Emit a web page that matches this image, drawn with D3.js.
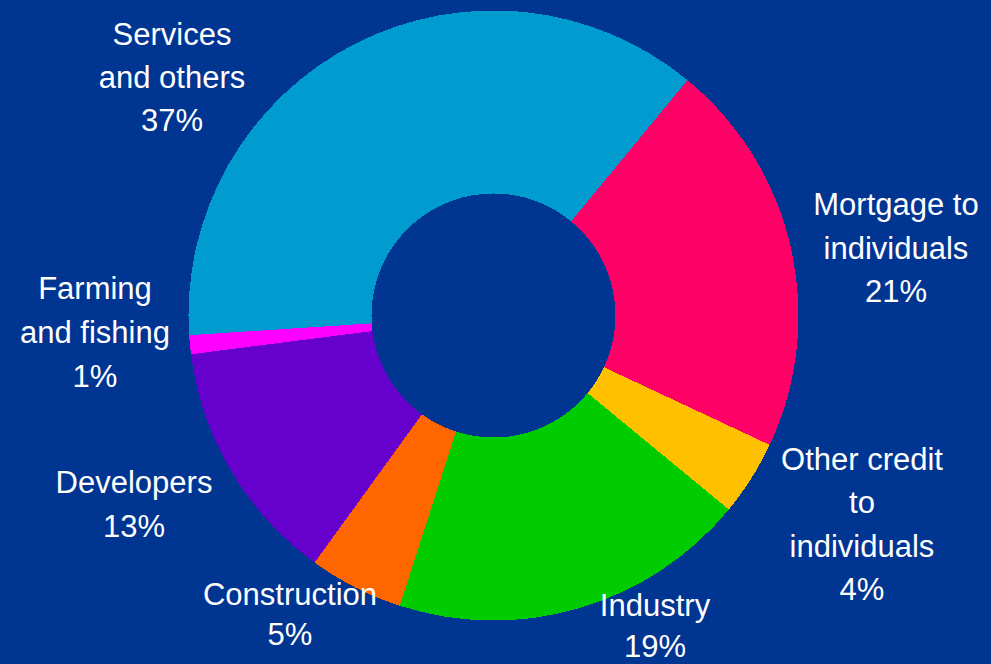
<!DOCTYPE html>
<html>
<head>
<meta charset="utf-8">
<script src="https://cdn.jsdelivr.net/npm/d3@7"></script>
<style>
  html, body { margin: 0; padding: 0; background: #003592; }
  svg { display: block; }
  text { font-family: Arial, "Liberation Sans", sans-serif; }
</style>
</head>
<body>
<script>
// Loan portfolio by sector, clockwise from the top-right
const categories = ["Mortgage to individuals", "Other credit to individuals", "Industry",
                    "Construction", "Developers", "Farming and fishing", "Services and others"];
const shares = [21, 4, 19, 5, 13, 1, 37];
const labelLines = [
  ["Mortgage to", "individuals"],
  ["Other credit", "to", "individuals"],
  ["Industry"],
  ["Construction"],
  ["Developers"],
  ["Farming", "and fishing"],
  ["Services", "and others"]
];
const sliceColors = ["#FF0066", "#FFC000", "#00CC00", "#FF6600", "#6600CC", "#FF00FF", "#009CCF"];

// Label anchors: centre x, first baseline, line step
const labelAnchors = [
  [896, 215, 43.5],
  [862, 470, 43.3],
  [655, 616, 40.7],
  [290, 605, 40],
  [134, 493, 44],
  [95, 299, 44],
  [172, 45, 43]
];

const W = 991, H = 664;
const cx = 493.5, cy = 315.5, rOuter = 305, rInner = 122;
const startDeg = 39.5;

const svg = d3.select("body").append("svg")
  .attr("width", W).attr("height", H);

svg.append("rect").attr("width", W).attr("height", H).attr("fill", "#003592");

const pie = d3.pie()
  .sort(null)
  .value(d => d)
  .startAngle(startDeg * Math.PI / 180)
  .endAngle(startDeg * Math.PI / 180 + 2 * Math.PI);

const arc = d3.arc().innerRadius(rInner).outerRadius(rOuter);

const g = svg.append("g").attr("transform", `translate(${cx},${cy})`);
g.selectAll("path.slice")
  .data(pie(shares))
  .join("path")
  .attr("class", "slice")
  .attr("d", arc)
  .attr("fill", (d, i) => sliceColors[i])
  .attr("shape-rendering", "crispEdges");

const labels = svg.append("g");
categories.forEach((c, i) => {
  const [x, y0, step] = labelAnchors[i];
  const lines = labelLines[i].concat([shares[i] + "%"]);
  const t = labels.append("text")
    .attr("text-anchor", "middle")
    .attr("fill", "#ffffff")
    .attr("font-size", 31);
  lines.forEach((ln, k) => {
    t.append("tspan").attr("x", x).attr("y", y0 + k * step).text(ln);
  });
});
</script>
</body>
</html>
